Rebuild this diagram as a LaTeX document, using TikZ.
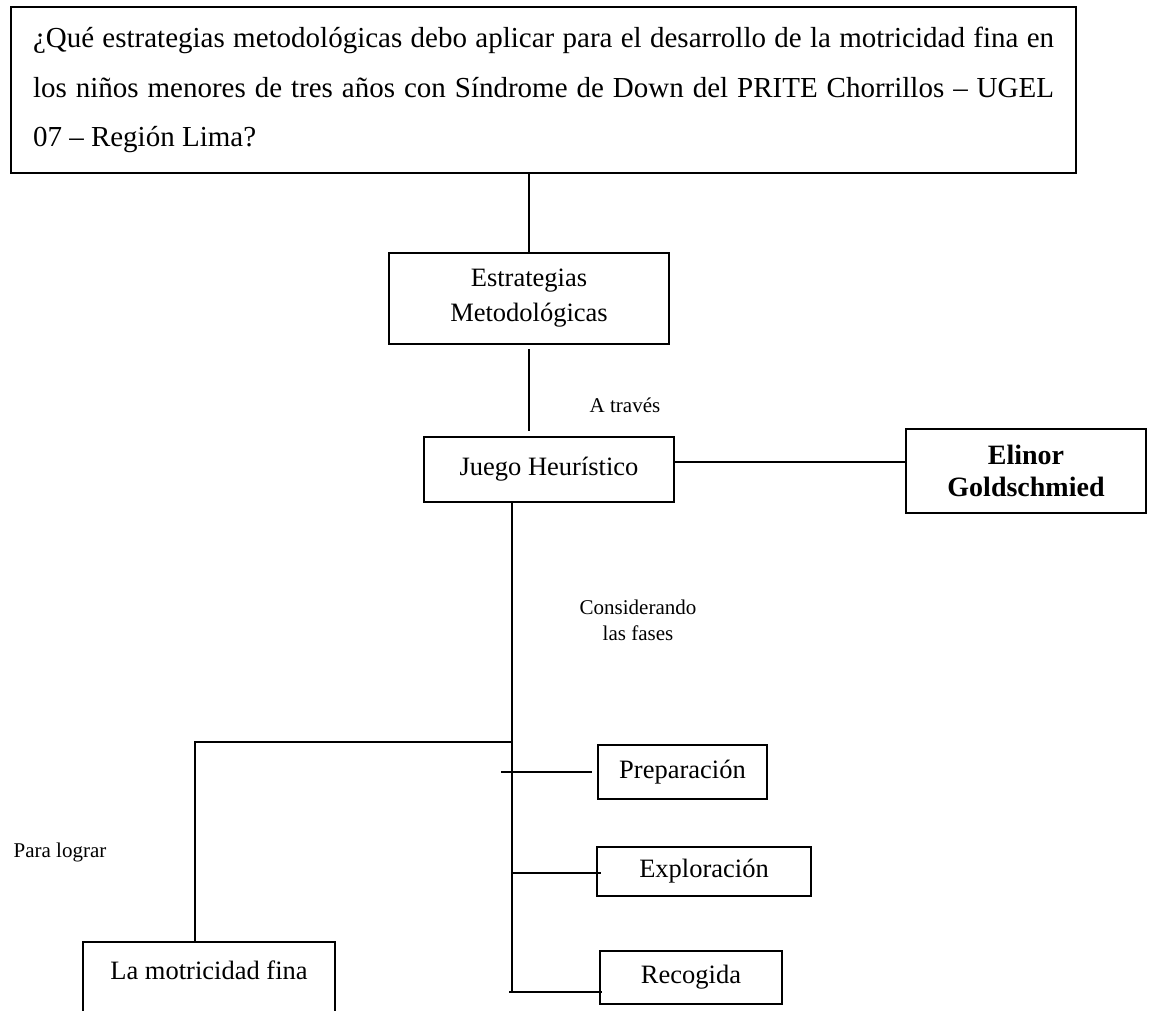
\documentclass[tikz,border=0pt]{standalone}
\usepackage{fontspec}
\setmainfont{Liberation Serif}
\newcommand\boxfont{\fontsize{26.5}{35}\selectfont}
\newcommand\notefont{\fontsize{21}{26}\selectfont}
\tikzset{
  caja/.style={draw, line width=2pt, inner sep=0pt, align=center, font=\boxfont},
  nota/.style={inner sep=0pt, align=center, font=\notefont}
}
\begin{document}
\begin{tikzpicture}[x=1pt, y=-1pt, line width=1.8pt]
      \useasboundingbox (0, 0) rectangle (1149, 1011);

      \node[caja, minimum width=1065, minimum height=166, text width=1021, align=justify, font=\fontsize{29}{49.5}\selectfont] (pregunta) at (543.5, 90) {¿Qué estrategias metodológicas debo aplicar para el desarrollo de la motricidad fina en\linebreak los niños menores de tres años con Síndrome de Down del PRITE Chorrillos – UGEL\linebreak 07 – Región Lima?};
      \node[caja, minimum width=280, minimum height=91] (estrategias) at (529, 298.5) {Estrategias\\Metodológicas};
      \node[caja, minimum width=250, minimum height=65] (juego) at (549, 469.5) {Juego Heurístico};
      \node[caja, minimum width=240, minimum height=84, font=\fontsize{28}{32}\selectfont\bfseries] (elinor) at (1026, 471) {Elinor\\Goldschmied};
      \node[caja, minimum width=169, minimum height=54] (preparacion) at (682.5, 772) {Preparación};
      \node[caja, minimum width=214, minimum height=49] (exploracion) at (704, 871.5) {Exploración};
      \node[caja, minimum width=182, minimum height=53] (recogida) at (691, 977.5) {Recogida};
      \node[caja, draw=none, minimum width=250, minimum height=54] (motricidad) at (209, 970) {La motricidad fina};

      \node[nota] (atraves) at (625, 405) {A través};
      \node[nota] (fases) at (638, 620) {Considerando\\las fases};
      \node[nota] (lograr) at (60, 852) {Para lograr};

      \coordinate (tronco) at (512, 502);
      \coordinate (rama) at (512, 742);
      \coordinate (fin) at (512, 992);

      \draw (estrategias.north) -- (estrategias.north |- pregunta.south);
      \draw[shorten <=4pt, shorten >=5pt] (estrategias.south) -- (estrategias.south |- juego.north);
      \draw ([yshift=7.5pt]juego.east) -- ([yshift=7.5pt]juego.east -| elinor.west);

      \draw (tronco) -- (fin);
      \draw (rama) -- ([xshift=-14pt]motricidad.north |- rama) -- ([xshift=-14pt]motricidad.north);
      \draw[line width=2pt] ([yshift=-30pt]motricidad.south west) -- (motricidad.north west) -- (motricidad.north east) -- ([yshift=-30pt]motricidad.south east);

      \draw ([xshift=-11pt]preparacion.west -| tronco) -- ([xshift=-5pt]preparacion.west);
      \draw ([yshift=-1.5pt]exploracion.west -| tronco) -- ([xshift=5pt,yshift=-1.5pt]exploracion.west);
      \draw ([xshift=-3pt]fin) -- ([xshift=3pt]fin -| recogida.west);
    \end{tikzpicture}
\end{document}
